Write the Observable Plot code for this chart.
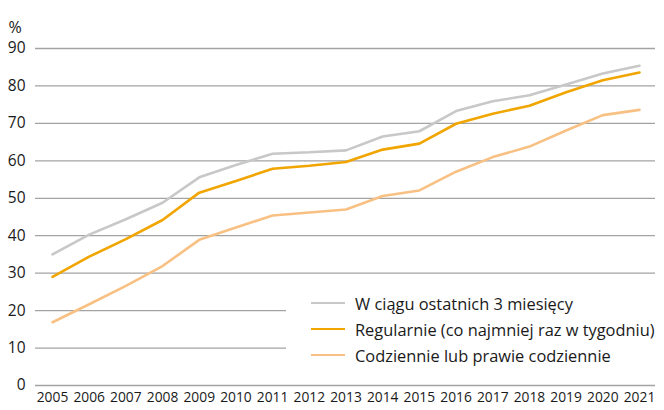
<!DOCTYPE html>
<html>
<head>
<meta charset="utf-8">
<script src="https://cdn.jsdelivr.net/npm/d3@7"></script>
<script src="https://cdn.jsdelivr.net/npm/@observablehq/plot@0.6"></script>
<style>
  body { margin: 0; background: #fff; font-family: "Open Sans", "Noto Sans", sans-serif; }
  #wrap { position: relative; width: 664px; height: 410px; }
  #legend { position: absolute; left: 286px; top: 287px; width: 378px; height: 80px; background: #fff;
            font-size: 16.4px; color: #1a1a1a; }
  .item { position: absolute; left: 25px; height: 20px; display: flex; align-items: center; white-space: nowrap; }
  .sw { width: 34px; height: 2.5px; margin-right: 10px; }
</style>
</head>
<body>
<div id="wrap"><div id="chart"></div><div id="legend"></div></div>
<script>
const years = [2005,2006,2007,2008,2009,2010,2011,2012,2013,2014,2015,2016,2017,2018,2019,2020,2021];
const seriesNames = ["W ciągu ostatnich 3 miesięcy", "Regularnie (co najmniej raz w tygodniu)", "Codziennie lub prawie codziennie"];
const seriesColors = ["#c8c8c8", "#f0a500", "#f8c183"];
const last3Months = [35.0, 40.3, 44.4, 48.8, 55.6, 58.9, 61.9, 62.3, 62.8, 66.5, 67.9, 73.3, 75.9, 77.5, 80.4, 83.3, 85.4];
const regularly   = [29.0, 34.4, 39.1, 44.2, 51.5, 54.6, 57.9, 58.7, 59.7, 63.0, 64.6, 69.9, 72.6, 74.7, 78.3, 81.5, 83.6];
const daily       = [16.9, 21.7, 26.6, 31.9, 38.9, 42.2, 45.4, 46.2, 47.0, 50.6, 52.1, 57.1, 61.0, 63.8, 68.1, 72.2, 73.6];
const yTicks = [0,10,20,30,40,50,60,70,80,90];
const unitLabel = "%";

const values = [last3Months, regularly, daily];
const rows = [];
values.forEach((arr, s) => arr.forEach((v, i) => rows.push({year: years[i], value: v, series: seriesNames[s]})));

const chart = Plot.plot({
  width: 664,
  height: 410,
  marginLeft: 52,
  marginRight: 25,
  marginTop: 48,
  marginBottom: 25,
  style: {fontFamily: "Open Sans, Noto Sans, sans-serif", color: "#1a1a1a", background: "#fff"},
  x: {domain: [2005, 2021], ticks: years, tickFormat: d => String(d)},
  y: {domain: [0, 90], ticks: yTicks},
  color: {domain: seriesNames, range: seriesColors},
  marks: [
    Plot.ruleY(yTicks, {stroke: "#a3a3a3", strokeWidth: 1.3, insetLeft: -17, insetRight: -16}),
    Plot.axisY({ticks: yTicks, tickSize: 0, tickPadding: 27, label: null, fontSize: 15.5}),
    Plot.axisX({ticks: years, tickSize: 0, tickPadding: 7, label: null, fontSize: 13.8, tickFormat: d => String(d)}),
    Plot.lineY(rows, {x: "year", y: "value", z: "series", stroke: "series", strokeWidth: 2.6, strokeLinejoin: "miter"}),
    Plot.text([unitLabel], {frameAnchor: "top-left", textAnchor: "start", dx: -44, dy: -27, fontSize: 16, text: d => d})
  ]
});
document.getElementById("chart").appendChild(chart);

const legend = document.getElementById("legend");
seriesNames.forEach((name, i) => {
  const it = document.createElement("div");
  it.className = "item";
  it.style.top = (6 + i * 26) + "px";
  const sw = document.createElement("span");
  sw.className = "sw";
  sw.style.background = seriesColors[i];
  const t = document.createElement("span");
  t.textContent = name;
  it.appendChild(sw); it.appendChild(t);
  legend.appendChild(it);
});
</script>
</body>
</html>
